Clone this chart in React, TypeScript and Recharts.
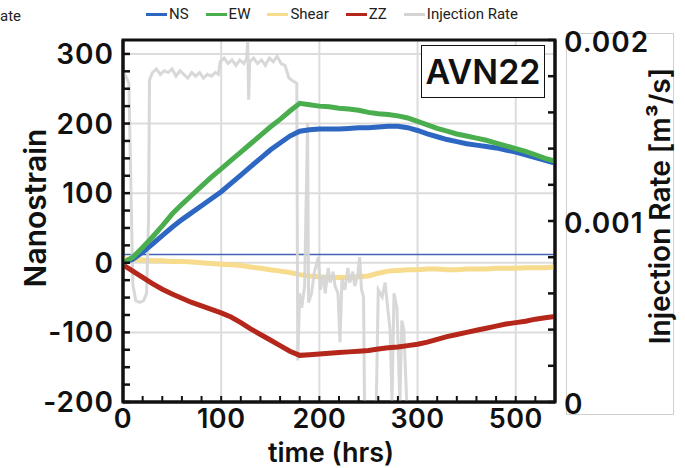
import React from 'react';
import { LineChart, Line, XAxis, YAxis, CartesianGrid, ReferenceLine, ReferenceArea } from 'recharts';

const FONT = 'Inter, "DejaVu Sans", sans-serif';

// strain series, sampled every 10 hrs (plot units)
const strainHours = [0, 10, 20, 30, 40, 50, 60, 70, 80, 90, 100, 110, 120, 130, 140, 150, 160, 170, 180, 190, 200, 210, 220, 230, 240, 250, 260, 270, 280, 290, 300, 310, 320, 330, 340, 350, 360, 370, 380, 390, 400, 410, 420, 430, 440];
const nsValues = [0, 5, 15, 27, 39, 51, 62, 72, 82, 92, 102, 114, 126, 138, 150, 162, 172, 182, 189, 191, 192, 192, 192, 193, 194, 194, 195, 196, 196, 194, 190, 185, 181, 177, 174, 171, 169, 167, 165, 162, 159, 155, 151, 147, 143];
const ewValues = [0, 8, 22, 37, 53, 70, 84, 97, 110, 123, 135, 147, 159, 171, 183, 195, 206, 218, 229, 227, 225, 224, 222, 221, 219, 216, 214, 213, 211, 208, 203, 198, 193, 189, 185, 182, 179, 176, 172, 168, 164, 160, 155, 150, 146];
const shearValues = [5, 5, 4, 3, 3, 2, 2, 1, 0, -1, -2, -3, -4, -6, -8, -10, -12, -14, -17, -19, -20, -21, -21, -21, -20, -19, -15, -12, -11, -10, -10, -9, -9, -10, -10, -9, -9, -9, -8, -8, -8, -7, -7, -7, -6];
const zzValues = [-3, -12, -21, -30, -38, -45, -51, -57, -62, -67, -72, -78, -86, -95, -103, -111, -119, -127, -133, -132, -131, -130, -129, -128, -127, -126, -124, -122, -121, -119, -117, -114, -110, -106, -103, -100, -97, -94, -91, -88, -86, -84, -81, -79, -77];

// injection rate [m3/s]
const rateHours = [0, 3, 6, 8, 10, 13, 17, 21, 24, 26, 27, 30, 34, 38, 42, 46, 50, 54, 58, 62, 66, 70, 74, 78, 82, 86, 90, 94, 97, 99, 103, 107, 111, 115, 119, 123, 126, 127, 128, 129, 133, 137, 141, 145, 149, 153, 157, 161, 165, 169, 174, 177, 178, 180, 182, 185, 188, 189, 192, 195, 199, 201, 204, 206, 209, 211, 214, 216, 219, 221, 223, 226, 229, 231, 234, 236, 239, 241, 243, 245, 246, 258, 260, 264, 267, 270, 272, 274, 276, 279, 282, 284, 286, 289, 440];
const rateValues = [0.00182, 0.0018, 0.00176, 0.0012, 0.00065, 0.00056, 0.00055, 0.00056, 0.0006, 0.001, 0.00178, 0.00182, 0.00184, 0.00181, 0.00183, 0.00182, 0.00184, 0.0018, 0.00183, 0.00181, 0.00179, 0.00182, 0.0018, 0.00182, 0.00179, 0.00181, 0.0018, 0.00182, 0.00181, 0.00188, 0.0019, 0.00187, 0.00189, 0.00186, 0.00189, 0.00187, 0.0019, 0.00199, 0.00167, 0.00188, 0.0019, 0.00187, 0.00189, 0.00186, 0.0019, 0.00188, 0.00191, 0.00187, 0.00186, 0.00179, 0.00177, 0.00176, 0.00023, 0.0006, 0.00052, 0.00064, 0.00154, 0.00055, 0.0006, 0.00072, 0.0008, 0.00062, 0.0007, 0.0006, 0.00074, 0.00066, 0.00072, 0.00064, 0.0006, 0.00033, 0.00068, 0.00062, 0.00074, 0.00066, 0.00072, 0.00064, 0.0007, 0.0008, 0.00062, 0.00058, 0, 0, 0.00062, 0.00058, 0.00066, 0.0005, 0.0004, 0, 0.0006, 0.00052, 0, 0.00045, 0.0004, 0, 0];

const xTicks = [0, 20, 40, 60, 80, 100, 120, 140, 160, 180, 200, 220, 240, 260, 280, 300, 320, 340, 360, 380, 400, 420, 440];
const xMajorTicks = [0, 100, 200, 300, 400];
const xTickLabels = ['0', '100', '200', '300', '500'];
const strainTicks = [-200, -175, -150, -125, -100, -75, -50, -25, 0, 25, 50, 75, 100, 125, 150, 175, 200, 225, 250, 275, 300];
const strainMajorTicks = [-200, -100, 0, 100, 200, 300];
const rateTicks = [0, 0.0002, 0.0004, 0.0006, 0.0008, 0.001, 0.0012, 0.0014, 0.0016, 0.0018, 0.002];
const rateMajorTicks = [0, 0.001, 0.002];

const legendItems = [
  { name: 'NS', color: '#2e67c2' },
  { name: 'EW', color: '#4aae4f' },
  { name: 'Shear', color: '#f6dc8c' },
  { name: 'ZZ', color: '#b5271b' },
  { name: 'Injection Rate', color: '#d4d4d4' },
];

const strainData = strainHours.map((t, i) => ({
  t,
  ns: nsValues[i],
  ew: ewValues[i],
  shear: shearValues[i],
  zz: zzValues[i],
}));
const rateData = rateHours.map((t, i) => ({ t, rate: rateValues[i] }));

const tickText = { fontFamily: FONT, fontWeight: 600, fill: '#111' };

const LeftTick = (props: any) => {
  const { x, y, payload } = props;
  const major = strainMajorTicks.includes(payload.value);
  return (
    <g>
      <line x1={x} x2={x + 7} y1={y} y2={y} stroke="#111" strokeWidth={2.5} />
      {major && (
        <text x={x - 9} y={y} textAnchor="end" dominantBaseline="central" fontSize={28} letterSpacing={1} {...tickText}>
          {payload.value}
        </text>
      )}
    </g>
  );
};

const RightTick = (props: any) => {
  const { x, y, payload } = props;
  const major = rateMajorTicks.includes(payload.value);
  return (
    <g>
      <line x1={x - 7} x2={x} y1={y} y2={y} stroke="#111" strokeWidth={2.5} />
      {major && (
        <text x={x + 9} y={y + 2} textAnchor="start" dominantBaseline="central" fontSize={28} letterSpacing={1} {...tickText}>
          {String(payload.value)}
        </text>
      )}
    </g>
  );
};

const BottomTick = (props: any) => {
  const { x, y, payload } = props;
  const idx = xMajorTicks.indexOf(payload.value);
  return (
    <g>
      <line x1={x} x2={x} y1={y - 6} y2={y} stroke="#111" strokeWidth={2} />
      {idx >= 0 && (
        <text x={x} y={y + 16} textAnchor="middle" dominantBaseline="central" fontSize={27} letterSpacing={0.5} {...tickText}>
          {xTickLabels[idx]}
        </text>
      )}
    </g>
  );
};

const titleStyle = { fontFamily: FONT, fontWeight: 600, fill: '#111', fontSize: 30 };

export default function App() {
  return (
    <div style={{ position: 'absolute', left: 0, top: 0, width: 685, height: 468, background: '#fff' }}>
      <div style={{ position: 'absolute', left: 0, top: 7, fontFamily: 'Roboto, sans-serif', fontSize: 15, color: '#222' }}>ate</div>
      <div style={{ position: 'absolute', left: 146, top: 5, display: 'flex', alignItems: 'center', fontFamily: 'Roboto, sans-serif', fontSize: 15, color: '#222' }}>
        {legendItems.map((it) => (
          <div key={it.name} style={{ display: 'flex', alignItems: 'center', marginRight: 17 }}>
            <span style={{ display: 'inline-block', width: 21, height: 3, background: it.color, marginRight: 2 }} />
            <span>{it.name}</span>
          </div>
        ))}
      </div>
      <div style={{ position: 'absolute', left: 566, top: 33, width: 106, height: 380, border: '1px solid #cfcfcf' }} />
      <LineChart width={685} height={468} margin={{ top: 40, right: 0, bottom: 0, left: 0 }} style={{ position: 'absolute', left: 0, top: 0 }}>
        <CartesianGrid
          yAxisId="left"
          stroke="#dcdcdc"
          strokeWidth={2}
          horizontalValues={[300, 200, 100, 0, -100]}
          verticalValues={[100, 200, 300, 400]}
        />
        <XAxis
          type="number"
          dataKey="t"
          domain={[0, 440]}
          ticks={xTicks}
          interval={0}
          height={66}
          tickSize={0}
          tickMargin={0}
          tickLine={false}
          axisLine={{ stroke: '#111', strokeWidth: 3 }}
          tick={<BottomTick />}
          allowDataOverflow
          label={{
            content: ({ viewBox }: any) => (
              <text x={viewBox.x + viewBox.width / 2 - 8} y={viewBox.y + 50} textAnchor="middle" dominantBaseline="central" {...titleStyle} fontSize={27}>
                time (hrs)
              </text>
            ),
          }}
        />
        <YAxis
          yAxisId="left"
          type="number"
          domain={[-200, 320]}
          ticks={strainTicks}
          interval={0}
          width={123}
          tickSize={0}
          tickMargin={0}
          tickLine={false}
          axisLine={{ stroke: '#111', strokeWidth: 3 }}
          tick={<LeftTick />}
          allowDataOverflow
          label={{
            content: ({ viewBox }: any) => (
              <text
                x={35}
                y={viewBox.y + 168}
                textAnchor="middle"
                dominantBaseline="central"
                transform={`rotate(-90 35 ${viewBox.y + 168})`}
                {...titleStyle}
              >
                Nanostrain
              </text>
            ),
          }}
        />
        <YAxis
          yAxisId="right"
          orientation="right"
          type="number"
          domain={[0, 0.002]}
          ticks={rateTicks}
          interval={0}
          width={130}
          tickSize={0}
          tickMargin={0}
          tickLine={false}
          axisLine={{ stroke: '#111', strokeWidth: 3 }}
          tick={<RightTick />}
          allowDataOverflow
          label={{
            content: ({ viewBox }: any) => (
              <text
                x={viewBox.x + 105}
                y={viewBox.y + 166}
                textAnchor="middle"
                dominantBaseline="central"
                transform={`rotate(-90 ${viewBox.x + 105} ${viewBox.y + 166})`}
                {...titleStyle}
                fontSize={28}
              >
                Injection Rate [m³/s]
              </text>
            ),
          }}
        />
        <ReferenceLine yAxisId="left" y={12} stroke="#4563b4" strokeWidth={1.5} />
        <Line yAxisId="left" data={strainData} dataKey="shear" stroke="#f6dc8c" strokeWidth={5} dot={false} isAnimationActive={false} />
        <Line yAxisId="right" data={rateData} dataKey="rate" stroke="#d4d4d4" strokeOpacity={0.9} strokeWidth={3} dot={false} isAnimationActive={false} />
        <Line yAxisId="left" data={strainData} dataKey="zz" stroke="#b5271b" strokeWidth={5} dot={false} isAnimationActive={false} />
        <Line yAxisId="left" data={strainData} dataKey="ns" stroke="#2e67c2" strokeWidth={5} dot={false} isAnimationActive={false} />
        <Line yAxisId="left" data={strainData} dataKey="ew" stroke="#4aae4f" strokeWidth={5} dot={false} isAnimationActive={false} />
        <ReferenceArea yAxisId="left" x1={0} x2={440} y1={-200} y2={320} fill="none" fillOpacity={0} stroke="#111" strokeWidth={3} ifOverflow="visible" />
      </LineChart>
      <div
        style={{
          position: 'absolute',
          left: 421,
          top: 45,
          width: 122,
          height: 51,
          border: '1.5px solid #111',
          background: '#fff',
          display: 'flex',
          alignItems: 'center',
          justifyContent: 'center',
          fontFamily: FONT,
          fontWeight: 600,
          fontSize: 34,
          color: '#111',
        }}
      >
        AVN22
      </div>
    </div>
  );
}
